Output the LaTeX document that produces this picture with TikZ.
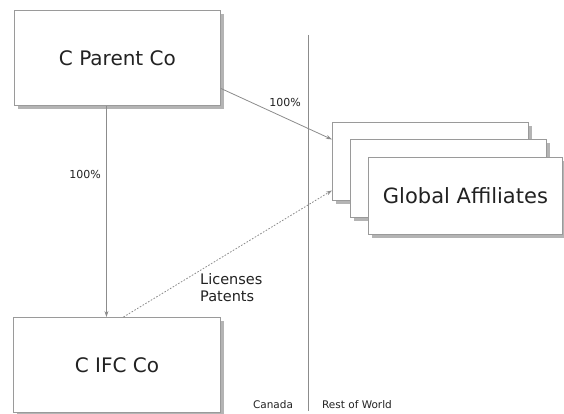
\documentclass[tikz,border=0pt]{standalone}
\usepackage{fontspec}
\setmainfont{DejaVu Sans}
\usetikzlibrary{arrows.meta,shadows}
\definecolor{linegray}{HTML}{8C8C8C}
\definecolor{boxgray}{HTML}{9A9A9A}
\definecolor{shadowgray}{HTML}{B4B4B4}
\definecolor{txt}{HTML}{222222}
\tikzset{
  entity/.style={draw=boxgray, line width=0.9pt, fill=white, anchor=north west, inner sep=0pt,
    text=txt, drop shadow={shadow xshift=3.5pt, shadow yshift=-3.5pt, fill=shadowgray, opacity=1}},
  link/.style={draw=linegray, line width=0.8pt, -{Stealth[length=6pt,width=4pt]}},
  dotlink/.style={link, dash pattern=on 1.6pt off 1.6pt},
  lbl/.style={text=txt, inner sep=0pt},
}
\begin{document}
\begin{tikzpicture}[x=1pt,y=-1pt]
\useasboundingbox[fill=white] (0,0) rectangle (564,414);
% divider
\coordinate (dtop) at (308,35);
\coordinate (dbot) at (308,411);
\draw[linegray, line width=0.7pt] (dtop) -- (dbot);
% boxes
\node[entity, minimum width=206pt, minimum height=95pt, font=\fontsize{20}{24}\selectfont] (parent) at (14,10) {C Parent Co};
\node[entity, minimum width=207pt, minimum height=95pt, font=\fontsize{20}{24}\selectfont] (ifc) at (13,317) {C IFC Co};
\node[entity, minimum width=196pt, minimum height=78pt] (ga1) at (332,122) {};
\node[entity, minimum width=196pt, minimum height=78pt] (ga2) at (350,139) {};
\node[entity, minimum width=194pt, minimum height=77pt, font=\fontsize{21}{25}\selectfont] (ga3) at (368,157) {Global Affiliates};
% connectors
\draw[link] ([xshift=-11pt]parent.south) -- ([xshift=-11pt]parent.south |- ifc.north);
\draw[link] ([yshift=-30.5pt]parent.east) -- ([yshift=22pt]ga1.west);
\draw[dotlink] ([xshift=6.5pt]ifc.north) -- ([yshift=-29pt]ga1.west);
% labels
\node[lbl, font=\fontsize{11}{13}\selectfont] (p1) at (85,174) {100\%};
\node[lbl, font=\fontsize{11}{13}\selectfont] (p2) at (285,102) {100\%};
\node[lbl, font=\fontsize{14.5}{17}\selectfont, align=left, anchor=west] (lic) at (200,288) {Licenses\\Patents};
\node[lbl, font=\fontsize{10.5}{12}\selectfont] (can) at (273,405) {Canada};
\node[lbl, font=\fontsize{10.5}{12}\selectfont] (row) at (357,405) {Rest of World};
\end{tikzpicture}
\end{document}
